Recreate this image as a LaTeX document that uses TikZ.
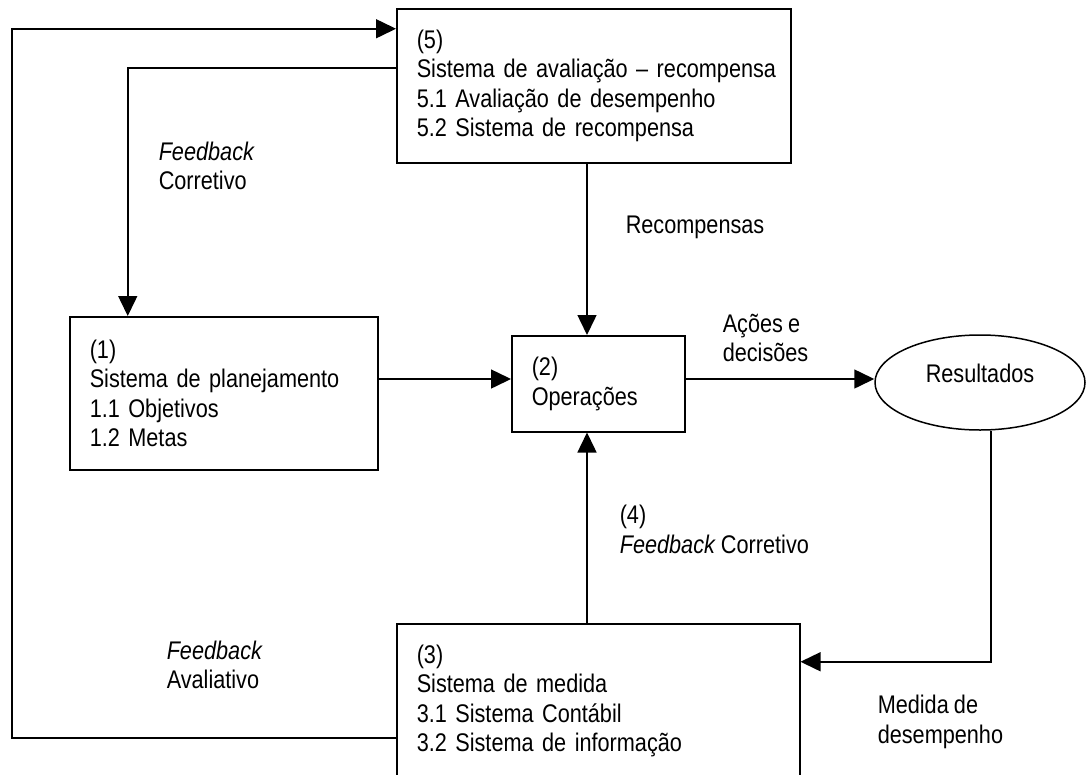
\documentclass[tikz,border=0pt]{standalone}
\usepackage{fontspec}
\setmainfont{Liberation Sans}[FakeStretch=0.85,WordSpace=0.85]
\usetikzlibrary{arrows.meta,shapes.geometric}
\begin{document}
\begin{tikzpicture}[x=1pt,y=-1pt,line width=1.5pt,
  every node/.style={font=\fontsize{25.5}{29.5}\selectfont},
  box/.style={draw,rectangle,anchor=north west,align=left,inner xsep=20pt,inner ysep=0pt},
  arr/.style={-{Triangle[length=20pt,width=19pt]}},
  lbl/.style={anchor=west,align=left,inner sep=0pt}]
\path[use as bounding box,clip] (0,0) rectangle (1086,774);

% blocks of the control system
\node[box,text width=354pt,minimum height=154pt] (b5) at (396,8)
  {(5)\\\mbox{Sistema de avaliação – recompensa}\\5.1 Avaliação de desempenho\\5.2 Sistema de recompensa};
\node[box,text width=268pt,minimum height=153pt] (b1) at (69,316)
  {(1)\\Sistema de planejamento\\1.1 Objetivos\\1.2 Metas\\[-10pt]};
\node[box,text width=133pt,minimum height=96pt] (b2) at (511,335)
  {(2)\\Operações};
\node[box,text width=363pt,minimum height=154pt] (b3) at (396,623)
  {(3)\\Sistema de medida\\3.1 Sistema Contábil\\3.2 Sistema de informação};
\node[draw,ellipse,inner sep=0pt,minimum width=210pt,minimum height=95pt,
      text height=19pt,text depth=19pt] (res) at (980,382.5) {Resultados};

% guide positions for the connectors
\coordinate (outerL) at (12,28);
\coordinate (mid) at (587,0);
\coordinate (row) at (0,379);
\coordinate (rline) at (991,0);

% connectors
\draw[arr] ([yshift=-37pt]b3.west) -| (outerL) |- ([yshift=57pt]b5.west);
\draw[arr] ([yshift=18pt]b5.west) -| ([xshift=-96pt]b1.north);
\draw[arr] (b5.south -| mid) -- (b2.north -| mid);
\draw[arr] (b1.east |- row) -- (b2.west |- row);
\draw[arr] (b2.east |- row) -- (res.west |- row);
\draw[arr] (b3.north -| mid) -- (b2.south -| mid);
\draw[arr] (res.south -| rline) |- ([yshift=39pt]b3.east);

% connector labels
\node[lbl] (lfc) at (158,166) {\textit{Feedback}\\Corretivo};
\node[lbl] (lrec) at (625,227) {Recompensas};
\node[lbl] (lad) at (722,338) {Ações e\\decisões};
\node[lbl] (l4) at (619,529.5) {(4)\\\textit{Feedback} Corretivo};
\node[lbl] (lfa) at (166,665) {\textit{Feedback}\\Avaliativo};
\node[lbl] (lmd) at (877,722) {Medida de\\desempenho};
\end{tikzpicture}
\end{document}
